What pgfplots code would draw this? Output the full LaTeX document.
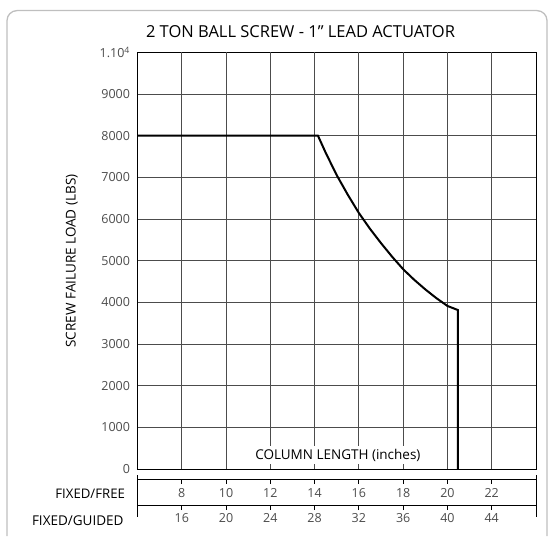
\documentclass[border=0pt]{standalone}
\usepackage{fontspec}
\setmainfont{Open Sans}
\usepackage{pgfplots}
\pgfplotsset{compat=1.18}
\definecolor{labc}{gray}{0.3}
\begin{document}
\begin{tikzpicture}
\begin{axis}[at={(137.5pt,67pt)}, anchor=south west, scale only axis,
  width=398.5pt, height=416.7pt,
  xmin=6, xmax=24, ymin=0, ymax=10000,
  scaled y ticks=false,
  xtick={6,8,...,24}, xticklabels={},
  ytick={0,1000,...,10000},
  yticklabels={0,1000,2000,3000,4000,5000,6000,7000,8000,9000,{1.10\textsuperscript{4}}},
  axis line style={black, line width=1pt},
  major tick length=0pt,
  yticklabel style={font=\fontsize{12.5}{14}\selectfont, text=labc, xshift=-4pt},
  clip=false]
% grid lines (every 2 in x, every 1000 in y)
\addplot[black!70, line width=0.9pt, forget plot] coordinates {(8,0) (8,10000)};
\addplot[black!70, line width=0.9pt, forget plot] coordinates {(10,0) (10,10000)};
\addplot[black!70, line width=0.9pt, forget plot] coordinates {(12,0) (12,10000)};
\addplot[black!70, line width=0.9pt, forget plot] coordinates {(14,0) (14,10000)};
\addplot[black!70, line width=0.9pt, forget plot] coordinates {(16,0) (16,10000)};
\addplot[black!70, line width=0.9pt, forget plot] coordinates {(18,0) (18,10000)};
\addplot[black!70, line width=0.9pt, forget plot] coordinates {(20,0) (20,10000)};
\addplot[black!70, line width=0.9pt, forget plot] coordinates {(22,0) (22,10000)};
\addplot[black!70, line width=0.9pt, forget plot] coordinates {(6,1000) (24,1000)};
\addplot[black!70, line width=0.9pt, forget plot] coordinates {(6,2000) (24,2000)};
\addplot[black!70, line width=0.9pt, forget plot] coordinates {(6,3000) (24,3000)};
\addplot[black!70, line width=0.9pt, forget plot] coordinates {(6,4000) (24,4000)};
\addplot[black!70, line width=0.9pt, forget plot] coordinates {(6,5000) (24,5000)};
\addplot[black!70, line width=0.9pt, forget plot] coordinates {(6,6000) (24,6000)};
\addplot[black!70, line width=0.9pt, forget plot] coordinates {(6,7000) (24,7000)};
\addplot[black!70, line width=0.9pt, forget plot] coordinates {(6,8000) (24,8000)};
\addplot[black!70, line width=0.9pt, forget plot] coordinates {(6,9000) (24,9000)};
% load curve
\addplot[black, line width=2pt] coordinates {
 (6,8000) (14.15,8000) (14.5,7590) (15,7050) (15.5,6580) (16,6143) (16.5,5765)
 (17,5420) (17.5,5095) (18,4794) (18.5,4540) (19,4310) (19.5,4100) (20,3913)
 (20.47,3815) (20.47,0)};
\node[fill=white, inner sep=3pt, font=\fontsize{13.5}{15}\selectfont] at (axis cs:15.05,336) {COLUMN LENGTH (inches)};
\end{axis}
% FIXED/FREE row
\begin{axis}[at={(137.5pt,30.3pt)}, anchor=south west, scale only axis,
  width=398.5pt, height=26.7pt,
  xmin=6, xmax=24, ymin=0, ymax=1, ytick=\empty,
  xtick={8,10,...,22}, xtick pos=right, xticklabel pos=left,
  tick align=inside, major tick length=4.5pt, major tick style={black, line width=0.8pt},
  axis line style={black, line width=1pt},
  separate axis lines, every outer y axis line/.style={draw=none},
  xticklabel style={font=\fontsize{12.5}{14}\selectfont, text=labc, anchor=center, yshift=12.5pt},
  /pgf/number format/assume math mode=true]
\end{axis}
% FIXED/GUIDED row
\begin{axis}[at={(137.5pt,30.3pt)}, anchor=south west, scale only axis,
  width=398.5pt, height=10pt,
  xmin=12, xmax=48, ymin=0, ymax=1,
  axis x line*=bottom, hide y axis,
  xtick={16,20,...,44},
  tick align=outside, major tick length=4.5pt, major tick style={black, line width=0.8pt},
  axis line style={black, line width=1pt, -},
  xticklabel style={font=\fontsize{12.5}{14}\selectfont, text=labc, inner sep=3pt},
  /pgf/number format/assume math mode=true]
\end{axis}
\draw[black, line width=1pt] (137.5pt,61pt) -- (137.5pt,19.3pt);
\draw[black, line width=1pt] (536pt,61pt) -- (536pt,19.3pt);
\node[rotate=90, font=\fontsize{13.5}{15}\selectfont] at (71.7pt,275pt) {SCREW FAILURE LOAD (LBS)};
\node[anchor=east, font=\fontsize{13.2}{15}\selectfont] at (128.5pt,42.7pt) {FIXED/FREE};
\node[anchor=east, font=\fontsize{13.5}{15}\selectfont] at (127pt,15.5pt) {FIXED/GUIDED};
\node[font=\fontsize{16.5}{19}\selectfont] at (300.5pt,504.2pt) {2 TON BALL SCREW - 1" LEAD ACTUATOR};
\draw[gray!50, line width=1.3pt, rounded corners=10pt] (7pt,0pt) -- (7pt,525.4pt) -- (547pt,525.4pt) -- (547pt,0pt);
\path[draw=none] (0pt,0pt) rectangle (559pt,536pt);
\end{tikzpicture}
\end{document}
